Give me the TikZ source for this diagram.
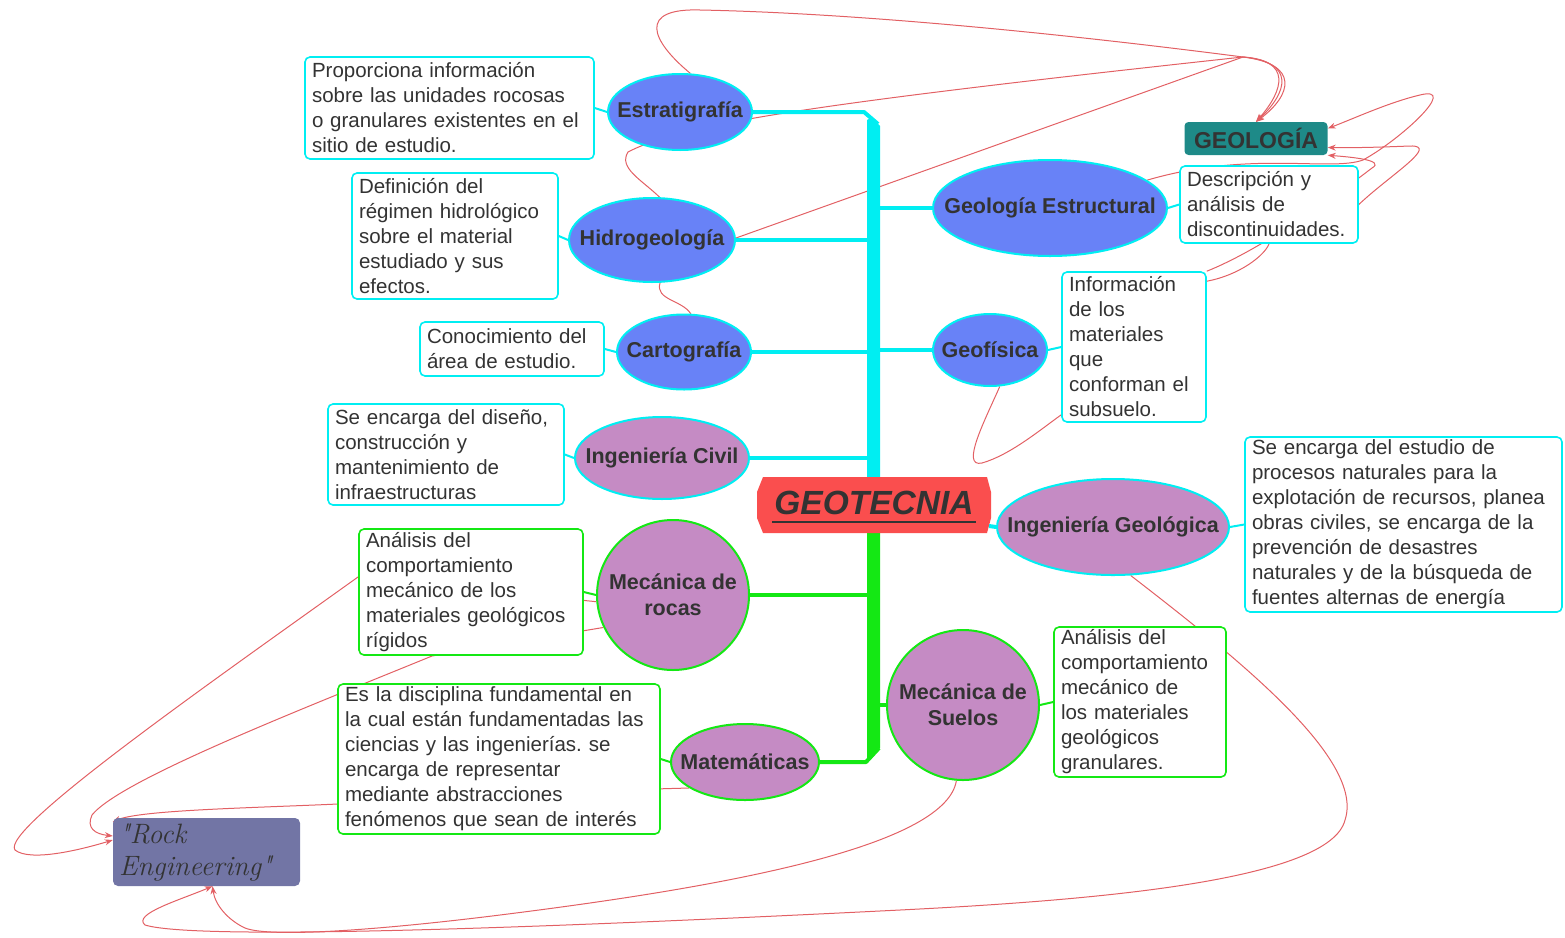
\documentclass[tikz,border=0pt]{standalone}
\usepackage{fontspec}
\newfontfamily\arial{Liberation Sans}
\usetikzlibrary{shapes.geometric,arrows.meta}
\pgfdeclarelayer{background}
\pgfsetlayers{background,main}
\definecolor{bluef}{RGB}{104,130,247}
\definecolor{purf}{RGB}{197,139,196}
\definecolor{cyanc}{RGB}{0,238,242}
\definecolor{greenc}{RGB}{20,232,20}
\definecolor{redf}{RGB}{250,78,78}
\definecolor{tealc}{RGB}{30,138,136}
\definecolor{rockc}{RGB}{114,117,165}
\definecolor{relc}{RGB}{226,96,100}
\definecolor{txtc}{RGB}{51,51,51}
\tikzset{
 txt/.style={font=\arial\fontsize{20.5}{25}\selectfont, text=txtc},
 tbox/.style={txt, rounded corners=5pt, fill=white, line width=1.6pt, inner xsep=7pt, inner ysep=0pt, align=left},
 cbox/.style={tbox, draw=cyanc},
 gbox/.style={tbox, draw=greenc},
 topic/.style={ellipse, inner sep=0pt, line width=2pt},
 tlabel/.style={font=\arial\bfseries\fontsize{21.5}{26}\selectfont, text=txtc, align=center},
 bluet/.style={topic, fill=bluef, draw=cyanc},
 purc/.style={topic, fill=purf, draw=cyanc},
 purg/.style={topic, fill=purf, draw=greenc},
 branchc/.style={draw=cyanc, line width=4pt, line join=round},
 branchg/.style={draw=greenc, line width=4pt, line join=round},
 linkc/.style={draw=cyanc, line width=2pt},
 linkg/.style={draw=greenc, line width=2pt},
 rel/.style={draw=relc, line width=1pt},
 relarrow/.style={rel, -{Stealth[length=8pt,width=6pt]}},
}
\begin{document}
\frenchspacing
\begin{tikzpicture}[x=1pt,y=-1pt]
\useasboundingbox (0,0) rectangle (1565,937);

% spines
\fill[cyanc] (867,120) -- (872,117) -- (880,126) -- (880,479) -- (867,479) -- cycle;
\fill[greenc] (867,532) -- (880,532) -- (880,748) -- (872,758) -- (867,758) -- cycle;
\coordinate (sE) at (878,124);
\coordinate (sH) at (868,240);
\coordinate (sC) at (868,352);
\coordinate (sI) at (868,458);
\coordinate (sM) at (868,595);
\coordinate (sT) at (879,748);
\coordinate (sG) at (880,208);
\coordinate (sF) at (880,350);
\coordinate (sS) at (880,705);

% central node
\fill[redf] (763,477) -- (987,477) -- (991,492) -- (991,518) -- (987,533) -- (763,533) -- (757,518) -- (757,492) -- cycle;
\node[font=\arial\bfseries\itshape\fontsize{33.5}{36}\selectfont, text=txtc, inner sep=0pt] (geo) at (874,503) {GEOTECNIA};
\draw[txtc, line width=2.6pt] (772,522) -- (976,522);

% topics
\node[bluet, minimum width=144pt, minimum height=76pt, label={[tlabel]center:Estratigrafía}] (estr) at (680,112) {};
\node[bluet, minimum width=166pt, minimum height=84pt, label={[tlabel]center:Hidrogeología}] (hidro) at (652,240) {};
\node[bluet, minimum width=134pt, minimum height=75pt, label={[tlabel]center:Cartografía}] (carto) at (684,352) {};
\node[purc, minimum width=174pt, minimum height=82pt, label={[tlabel]center:Ingeniería Civil}] (icivil) at (662,458) {};
\node[purg, minimum width=152pt, minimum height=150pt, label={[tlabel]center:{Mecánica de\\rocas}}] (mrocas) at (673,595) {};
\node[purg, minimum width=148pt, minimum height=76pt, label={[tlabel]center:Matemáticas}] (mat) at (745,762) {};
\node[bluet, minimum width=234pt, minimum height=96pt, label={[tlabel]center:Geología Estructural}] (gest) at (1050,208) {};
\node[bluet, minimum width=114pt, minimum height=72pt, label={[tlabel]center:Geofísica}] (geof) at (990,350) {};
\node[purc, minimum width=232pt, minimum height=96pt, label={[tlabel]center:Ingeniería Geológica}] (igeol) at (1113,527) {};
\node[purg, minimum width=152pt, minimum height=150pt, label={[tlabel]center:{Mecánica de\\Suelos}}] (msuelos) at (963,705) {};

% text boxes
\node[cbox, text width=275pt, minimum height=102pt] (t1) at (449.5,108) {Proporciona información\\sobre las unidades rocosas\\o granulares existentes en el\\sitio de estudio.};
\node[cbox, text width=192pt, minimum height=126pt] (t2) at (455,236) {Definición del\\régimen hidrológico\\sobre el material\\estudiado y sus\\efectos.};
\node[cbox, text width=170pt, minimum height=54pt] (t3) at (512,349) {Conocimiento del\\área de estudio.};
\node[cbox, text width=222pt, minimum height=101pt] (t4) at (446,454.5) {Se encarga del diseño,\\construcción y\\mantenimiento de\\infraestructuras};
\node[gbox, text width=210pt, minimum height=126pt] (t5) at (471,592) {Análisis del\\comportamiento\\mecánico de los\\materiales geológicos\\rígidos};
\node[gbox, text width=308pt, minimum height=150pt] (t6) at (499,759) {Es la disciplina fundamental en\\la cual están fundamentadas las\\ciencias y las ingenierías. se\\encarga de representar\\mediante abstracciones\\fenómenos que sean de interés};
\node[cbox, text width=164pt, minimum height=77pt] (t7) at (1269,204.5) {Descripción y\\análisis de\\discontinuidades.};
\node[cbox, text width=130pt, minimum height=150pt] (t8) at (1134,347) {Información\\de los\\materiales\\que\\conforman el\\subsuelo.};
\node[cbox, text width=303pt, minimum height=175pt] (t9) at (1403.5,524.5) {Se encarga del estudio de\\procesos naturales para la\\explotación de recursos, planea\\obras civiles, se encarga de la\\prevención de desastres\\naturales y de la búsqueda de\\fuentes alternas de energía};
\node[gbox, text width=158pt, minimum height=150pt] (t10) at (1140,702) {Análisis del\\comportamiento\\mecánico de\\los materiales\\geológicos\\granulares.};

% floating topics
\node[fill=tealc, rounded corners=4pt, minimum width=143pt, minimum height=33pt, inner sep=0pt, font=\arial\bfseries\fontsize{23}{25}\selectfont, text=txtc] (geol) at (1256,138.5) {GEOLOGÍA};
\node[fill=rockc, rounded corners=5pt, minimum width=187pt, minimum height=68pt, inner xsep=6pt, inner ysep=0pt, text width=175pt, align=left, font=\itshape\fontsize{28}{32}\selectfont, text=txtc] (rock) at (206.5,852) {\textquotedbl Rock\\Engineering\textquotedbl};

% branches
\draw[branchc] (estr.east) -- (864,112) -- (sE);
\draw[branchc] (hidro.east) -- (sH);
\draw[branchc] (carto.east) -- (sC);
\draw[branchc] (icivil.east) -- (sI);
\draw[branchg] (mrocas.east) -- (sM);
\draw[branchg] (mat.east) -- (866,762) -- (sT);
\draw[branchc] (sG) -- (gest.west);
\draw[branchc] (sF) -- (geof.west);
\draw[branchg] (sS) -- (msuelos.west);
\draw[branchc] (989,526) -- (igeol.west);

% box links
\draw[linkc] (t1.east) -- (estr.west);
\draw[linkc] (t2.east) -- (hidro.west);
\draw[linkc] (t3.east) -- (carto.west);
\draw[linkc] (t4.east) -- (icivil.west);
\draw[linkg] (t5.east) -- (mrocas.west);
\draw[linkg] (t6.east) -- (mat.west);
\draw[linkc] (gest.east) -- (t7.west);
\draw[linkc] (geof.east) -- (t8.west);
\draw[linkc] (igeol.east) -- (t9.west);
\draw[linkg] (msuelos.east) -- (t10.west);

% relationships
\begin{pgfonlayer}{background}
\draw[relarrow] (estr.75) .. controls (650,40) and (638,8) .. (700,10) .. controls (900,14) and (1150,45) .. (1243,57) .. controls (1300,64) and (1292,95) .. (geol.north);
\draw[relarrow] (hidro.80) .. controls (642,180) and (618,168) .. (628,152) .. controls (680,125) and (800,105) .. (1243,57) .. controls (1296,62) and (1288,92) .. (geol.north);
\draw[relarrow] (carto.80) .. controls (682,300) and (655,300) .. (660,283) .. controls (680,262) and (720,245) .. (736,238) -- (1243,57) .. controls (1292,60) and (1284,90) .. (geol.north);
\draw[relarrow] (gest.16) .. controls (1250,150) and (1330,172) .. (1363,160) .. controls (1400,140) and (1460,85) .. (1420,95) .. controls (1390,102) and (1355,118) .. ([yshift=10pt]geol.east);
\draw[relarrow] (t7.east) .. controls (1390,175) and (1440,145) .. (1410,146) .. controls (1385,147) and (1355,148) .. ([yshift=-9pt]geol.east);
\draw[relarrow] (t8.north east) .. controls (1260,250) and (1330,200) .. (1372,168) .. controls (1386,160) and (1350,157) .. (geol.south east);
\draw[rel] ([yshift=-10pt]t8.north east) .. controls (1240,275) and (1265,255) .. (t7.south);
\draw[rel] (geof.285) .. controls (985,420) and (960,468) .. (982,463) .. controls (1010,455) and (1040,430) .. ([yshift=8pt]t8.south west);
\draw[relarrow] (igeol.290) .. controls (1240,660) and (1365,760) .. (1345,820) .. controls (1330,880) and (1100,900) .. (900,910) .. controls (600,925) and (200,942) .. (145,925) .. controls (132,914) and (180,900) .. ([xshift=6pt]rock.south);
\draw[relarrow] (msuelos.265) .. controls (945,850) and (700,890) .. (500,915) .. controls (380,930) and (270,938) .. (245,928) .. controls (228,920) and (215,905) .. ([xshift=6pt]rock.south);
\draw[relarrow] (mrocas.185) -- (358,577) .. controls (200,690) and (0,830) .. (15,850) .. controls (30,862) and (80,850) .. ([yshift=12pt]rock.west);
\draw[relarrow] (mrocas.205) -- (432,656) .. controls (300,710) and (120,780) .. (92,815) .. controls (86,828) and (95,834) .. ([yshift=16pt]rock.west);
\draw[relarrow] (mat.205) .. controls (600,790) and (400,800) .. (338,804) .. controls (250,808) and (140,810) .. ([yshift=-4pt]rock.north west);
\end{pgfonlayer}
\end{tikzpicture}
\end{document}
